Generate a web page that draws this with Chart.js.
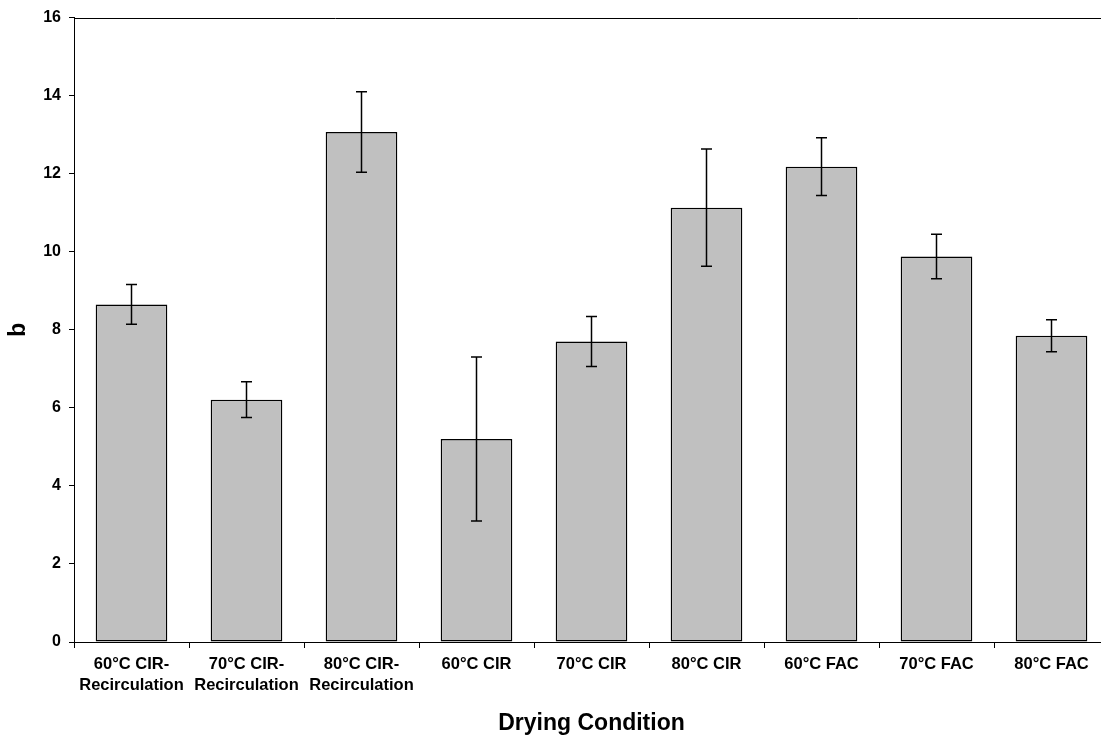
<!DOCTYPE html>
<html>
<head>
<meta charset="utf-8">
<script src="https://cdn.jsdelivr.net/npm/chart.js@4/dist/chart.umd.min.js"></script>
<style>
  html, body { margin: 0; padding: 0; background: #fff; overflow: hidden; }
  #wrap { position: relative; width: 1120px; height: 739px; }
</style>
</head>
<body>
<div id="wrap"><canvas id="chart"></canvas></div>
<script>
// Drying conditions on the x axis
const conditions = [
  ['60°C CIR-', 'Recirculation'],
  ['70°C CIR-', 'Recirculation'],
  ['80°C CIR-', 'Recirculation'],
  '60°C CIR',
  '70°C CIR',
  '80°C CIR',
  '60°C FAC',
  '70°C FAC',
  '80°C FAC'
];
// Mean b values and their standard deviations
const bValues = [8.65, 6.21, 13.07, 5.20, 7.70, 11.13, 12.18, 9.88, 7.85];
const bErrors = [0.51, 0.46, 1.03, 2.10, 0.64, 1.50, 0.74, 0.57, 0.41];
const yTicks = [0, 2, 4, 6, 8, 10, 12, 14, 16];

const FONT = '"Liberation Sans", Arial, sans-serif';

// Error bars drawn with the value scale
const errorBars = {
  id: 'errorBars',
  afterDatasetsDraw(chart) {
    const ctx = chart.ctx;
    const meta = chart.getDatasetMeta(0);
    const y = chart.scales.y;
    ctx.save();
    ctx.strokeStyle = '#000';
    ctx.lineWidth = 1.5;
    meta.data.forEach((bar, i) => {
      const x = bar.x;
      const hi = y.getPixelForValue(bValues[i] + bErrors[i]);
      const lo = y.getPixelForValue(bValues[i] - bErrors[i]);
      const cap = 5.5;
      ctx.beginPath();
      ctx.moveTo(x, hi); ctx.lineTo(x, lo);
      ctx.moveTo(x - cap, hi); ctx.lineTo(x + cap, hi);
      ctx.moveTo(x - cap, lo); ctx.lineTo(x + cap, lo);
      ctx.stroke();
    });
    ctx.restore();
  }
};

// Top frame line of the plot area
const topFrame = {
  id: 'topFrame',
  afterDraw(chart) {
    const { ctx, chartArea } = chart;
    ctx.save();
    ctx.strokeStyle = '#000';
    ctx.lineWidth = 1;
    ctx.beginPath();
    ctx.moveTo(chartArea.left, Math.round(chartArea.top) + 0.5);
    ctx.lineTo(chart.width, Math.round(chartArea.top) + 0.5);
    ctx.stroke();
    ctx.restore();
  }
};

new Chart(document.getElementById('chart'), {
  type: 'bar',
  data: {
    labels: conditions,
    datasets: [{
      data: bValues,
      backgroundColor: '#c0c0c0',
      borderColor: '#000',
      borderWidth: 1.5,
      borderSkipped: false,
      barPercentage: 0.623,
      categoryPercentage: 1.0
    }]
  },
  options: {
    responsive: true,
    maintainAspectRatio: false,
    animation: false,
    layout: { padding: { top: 15, right: 11, bottom: 0, left: 0 } },
    plugins: { legend: { display: false }, tooltip: { enabled: false } },
    scales: {
      x: {
        offset: true,
        grid: { offset: true, drawOnChartArea: false, drawTicks: true, tickLength: 6, color: '#000', lineWidth: 1 },
        border: { display: true, color: '#000', width: 1 },
        ticks: {
          color: '#000',
          maxRotation: 0,
          autoSkip: false,
          padding: 6,
          font: { family: FONT, size: 16.5, weight: 'bold', lineHeight: 1.27 }
        },
        title: {
          display: true,
          text: 'Drying Condition',
          color: '#000',
          font: { family: FONT, size: 23, weight: 'bold', lineHeight: 1.2 },
          padding: { top: 0, bottom: 2 }
        },
        afterFit(scale) { scale.height = 97; }
      },
      y: {
        min: 0,
        max: 16,
        afterBuildTicks(scale) { scale.ticks = yTicks.map(v => ({ value: v })); },
        grid: { drawOnChartArea: false, drawTicks: true, tickLength: 5, color: '#000', lineWidth: 1 },
        border: { display: true, color: '#000', width: 1 },
        ticks: {
          color: '#000',
          padding: 8,
          font: { family: FONT, size: 16, weight: 'bold' }
        },
        title: {
          display: true,
          text: 'b',
          color: '#000',
          font: { family: FONT, size: 23, weight: 'bold', lineHeight: 1.2 },
          padding: { top: 5, bottom: 0 }
        },
        afterFit(scale) { scale.width = 74; }
      }
    }
  },
  plugins: [errorBars, topFrame]
});
</script>
</body>
</html>
